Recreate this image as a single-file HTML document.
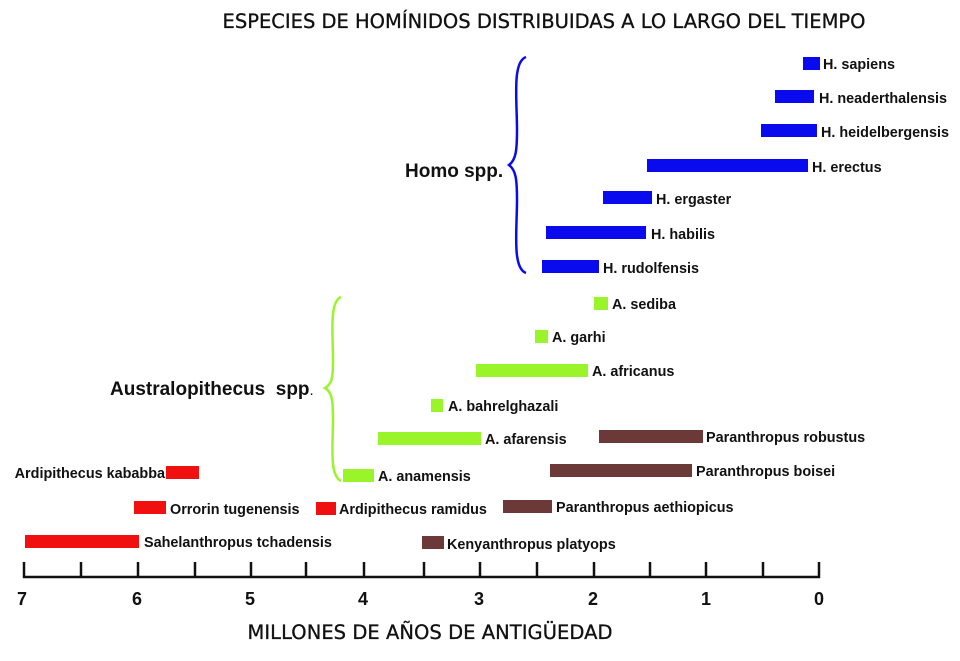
<!DOCTYPE html>
<html><head><meta charset="utf-8"><style>
body{margin:0;background:#fff}
svg{display:block}
.l{font-family:"Liberation Sans",Arial,sans-serif;font-weight:bold;font-size:14.4px;fill:#111}
.t{font-family:"DejaVu Sans",sans-serif;font-size:19.5px;fill:#111;stroke:#111;stroke-width:0.3}
.n{font-family:"Liberation Sans",Arial,sans-serif;font-weight:bold;font-size:19px;fill:#111}
</style></head><body>
<svg width="960" height="661" viewBox="0 0 960 661">
<rect x="0" y="0" width="960" height="661" fill="#fff"/>
<text class="t" x="544" y="28" text-anchor="middle" textLength="643">ESPECIES DE HOMÍNIDOS DISTRIBUIDAS A LO LARGO DEL TIEMPO</text>
<g fill="#0a0aee">
<rect x="803" y="57" width="17" height="13"/>
<rect x="775" y="90" width="39" height="13"/>
<rect x="761" y="124" width="56" height="13"/>
<rect x="647" y="159" width="161" height="13"/>
<rect x="603" y="191" width="49" height="13"/>
<rect x="546" y="226" width="100" height="13"/>
<rect x="542" y="260" width="57" height="13"/>
</g>
<g fill="#99f52a">
<rect x="594" y="297" width="14" height="13"/>
<rect x="535" y="330" width="13" height="13"/>
<rect x="476" y="364" width="112" height="13"/>
<rect x="431" y="399" width="12" height="13"/>
<rect x="378" y="432" width="103" height="13"/>
<rect x="343" y="469" width="31" height="13"/>
</g>
<g fill="#6b3a38">
<rect x="599" y="430" width="104" height="13"/>
<rect x="550" y="464" width="142" height="13"/>
<rect x="503" y="500" width="49" height="13"/>
<rect x="422" y="536" width="22" height="13"/>
</g>
<g fill="#f01010">
<rect x="166" y="466" width="33" height="13"/>
<rect x="134" y="501" width="32" height="13"/>
<rect x="316" y="502" width="20" height="13"/>
<rect x="25" y="535" width="114" height="13"/>
</g>
<g class="l">
<text x="823" y="69">H. sapiens</text>
<text x="819" y="103">H. neaderthalensis</text>
<text x="821" y="137">H. heidelbergensis</text>
<text x="812" y="172">H. erectus</text>
<text x="656" y="204">H. ergaster</text>
<text x="651" y="239">H. habilis</text>
<text x="603" y="273">H. rudolfensis</text>
<text x="612" y="309">A. sediba</text>
<text x="552" y="342">A. garhi</text>
<text x="592" y="376">A. africanus</text>
<text x="448" y="411">A. bahrelghazali</text>
<text x="485" y="444">A. afarensis</text>
<text x="378" y="481">A. anamensis</text>
<text x="706" y="442">Paranthropus robustus</text>
<text x="696" y="476">Paranthropus boisei</text>
<text x="556" y="512">Paranthropus aethiopicus</text>
<text x="447" y="549">Kenyanthropus platyops</text>
<text x="165" y="478" text-anchor="end">Ardipithecus kababba</text>
<text x="170" y="514">Orrorin tugenensis</text>
<text x="339" y="514">Ardipithecus ramidus</text>
<text x="144" y="547">Sahelanthropus tchadensis</text>
</g>
<text class="n" x="405" y="177">Homo spp.</text>
<text class="n" x="110" y="395" xml:space="preserve">Australopithecus  spp<tspan font-weight="normal" font-size="15">.</tspan></text>
<path d="M526,57 C512,62 517,100 517,130 C517,150 516,160 509,165 C516,170 517,180 517,200 C517,230 512,268 526,273" fill="none" stroke="#0a0aee" stroke-width="2.5"/>
<path d="M341,297 C329,302 333,335 333,360 C333,378 332,384 325,388 C332,392 333,400 333,420 C333,445 329,475 341,481" fill="none" stroke="#99f52a" stroke-width="2.5"/>
<g stroke="#111" stroke-width="2.5">
<line x1="23" y1="577" x2="820" y2="577"/>
<line x1="24" y1="562" x2="24" y2="578"/><line x1="81" y1="562" x2="81" y2="578"/><line x1="138" y1="562" x2="138" y2="578"/><line x1="195" y1="562" x2="195" y2="578"/><line x1="251" y1="562" x2="251" y2="578"/><line x1="306" y1="562" x2="306" y2="578"/><line x1="364" y1="562" x2="364" y2="578"/><line x1="424" y1="562" x2="424" y2="578"/><line x1="480" y1="562" x2="480" y2="578"/><line x1="537" y1="562" x2="537" y2="578"/><line x1="594" y1="562" x2="594" y2="578"/><line x1="650" y1="562" x2="650" y2="578"/><line x1="706" y1="562" x2="706" y2="578"/><line x1="763" y1="562" x2="763" y2="578"/><line x1="819" y1="562" x2="819" y2="578"/>
</g>
<g font-family="Liberation Sans,Arial,sans-serif" font-weight="bold" font-size="18" fill="#111" text-anchor="middle">
<text x="22" y="605">7</text><text x="137" y="605">6</text><text x="250" y="605">5</text><text x="363" y="605">4</text><text x="479" y="605">3</text><text x="593" y="605">2</text><text x="706" y="605">1</text><text x="819" y="605">0</text>
</g>
<text class="t" x="430" y="639" text-anchor="middle" textLength="365">MILLONES DE AÑOS DE ANTIGÜEDAD</text>
</svg>
</body></html>
